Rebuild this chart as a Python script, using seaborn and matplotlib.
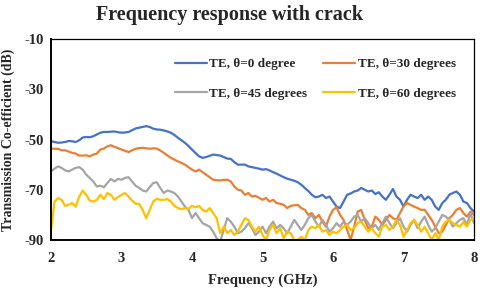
import numpy as np
import pandas as pd
import matplotlib
matplotlib.use("Agg")
import matplotlib.pyplot as plt
import seaborn as sns

# frequency axis, 0.05 GHz sampling from 2 to 8 GHz
freq = np.round(np.linspace(2, 8, 121), 2)

te_0 = [-50.7, -51.0, -51.3, -51.2, -51.0, -50.6, -50.7, -51.0, -50.3, -49.2,
        -49.0, -49.1, -48.7, -48.0, -47.3, -47.0, -47.0, -46.9, -46.8, -47.1,
        -47.3, -47.2, -47.0, -46.3, -45.6, -45.3, -45.0, -44.7, -45.0, -45.7,
        -46.0, -46.1, -46.4, -46.8, -47.3, -48.2, -49.3, -50.3, -51.3, -52.6,
        -54.0, -55.4, -56.7, -57.3, -57.0, -56.5, -56.0, -56.2, -56.4, -57.0,
        -57.6, -57.7, -59.0, -60.0, -60.0, -60.0, -60.7, -61.0, -61.3, -61.6,
        -62.0, -61.8, -62.3, -63.0, -63.6, -64.3, -65.0, -65.6, -66.0, -66.4,
        -67.0, -68.0, -69.3, -70.5, -72.0, -73.0, -72.7, -72.0, -73.3, -72.7,
        -74.7, -76.7, -77.3, -74.7, -72.0, -71.5, -70.7, -70.3, -69.3, -70.0,
        -70.7, -70.3, -71.7, -71.0, -72.7, -74.0, -72.0, -69.7, -72.7, -74.0,
        -76.7, -74.0, -72.0, -72.7, -73.3, -72.0, -74.0, -72.7, -74.0, -76.7,
        -78.0, -75.3, -74.0, -72.0, -71.3, -70.7, -72.0, -74.7, -75.3, -77.3,
        -78.7]

te_30 = [-53.6, -53.7, -53.7, -54.3, -54.3, -54.8, -55.3, -55.6, -56.4, -56.4,
         -56.3, -56.7, -56.0, -55.6, -54.0, -53.6, -52.7, -52.3, -52.9, -53.4,
         -54.0, -54.5, -55.0, -54.3, -53.7, -53.4, -53.3, -53.5, -53.7, -53.5,
         -53.6, -54.4, -55.3, -56.3, -57.3, -58.0, -58.7, -59.3, -60.0, -61.0,
         -62.0, -62.7, -62.0, -63.0, -64.0, -65.0, -66.0, -66.2, -66.3, -66.1,
         -66.0, -66.7, -68.7, -70.0, -70.3, -72.0, -71.3, -72.7, -72.4, -73.2,
         -74.0, -73.3, -74.7, -74.0, -75.3, -75.6, -76.0, -77.3, -76.4, -76.2,
         -76.0, -77.3, -78.0, -80.0, -79.3, -81.3, -80.0, -82.7, -84.7, -80.7,
         -78.0, -77.0, -80.0, -82.0, -86.0, -90.0, -84.7, -78.7, -78.0, -82.0,
         -85.3, -84.7, -80.7, -82.0, -84.0, -82.0, -80.0, -81.3, -82.0, -79.3,
         -76.7, -75.3, -76.0, -76.7, -77.3, -78.0, -78.0, -80.0, -82.0, -84.7,
         -87.3, -86.7, -84.0, -81.3, -80.0, -78.0, -77.3, -79.3, -80.7, -78.7,
         -80.0]

te_45 = [-62.7, -61.6, -60.7, -61.3, -62.3, -62.7, -62.0, -61.3, -61.0, -62.0,
         -64.0, -65.3, -66.7, -68.7, -68.4, -69.0, -67.3, -65.7, -66.7, -65.7,
         -66.0, -65.3, -65.0, -66.7, -68.4, -69.3, -70.3, -70.7, -69.0, -67.3,
         -67.0, -69.3, -71.3, -70.3, -70.7, -71.3, -72.7, -74.7, -76.7, -78.0,
         -81.3, -79.3, -81.3, -83.3, -84.0, -84.7, -86.7, -89.3, -90.7, -86.0,
         -81.3, -82.7, -84.7, -87.3, -86.7, -85.3, -83.3, -85.3, -88.0, -86.7,
         -84.7, -87.3, -84.7, -82.7, -85.3, -84.0, -85.3, -87.3, -84.7, -82.0,
         -84.0, -86.0, -84.0, -81.3, -80.0, -82.7, -84.7, -82.0, -84.0, -86.7,
         -85.3, -83.3, -84.7, -82.7, -84.0, -82.7, -80.7, -80.0, -82.7, -81.3,
         -83.3, -85.3, -84.0, -86.0, -83.3, -80.7, -83.3, -85.3, -83.3, -81.3,
         -84.7, -86.7, -84.0, -82.0, -85.3, -82.7, -80.7, -84.0, -86.7, -85.3,
         -82.7, -80.0, -80.7, -82.0, -84.7, -83.3, -82.0, -81.3, -84.0, -79.3,
         -83.3]

te_60 = [-86.3, -74.7, -73.3, -74.0, -76.4, -76.0, -75.3, -76.7, -72.7, -70.3,
         -72.0, -74.3, -74.7, -74.0, -72.0, -73.7, -71.3, -72.0, -74.0, -72.9,
         -72.0, -71.3, -72.7, -74.3, -75.6, -75.6, -78.0, -81.3, -78.0, -74.7,
         -73.6, -74.0, -74.0, -73.7, -74.7, -76.4, -77.3, -77.7, -77.3, -77.6,
         -76.4, -77.0, -76.4, -78.0, -78.7, -77.3, -79.3, -81.3, -87.3, -84.7,
         -87.3, -86.0, -88.0, -86.7, -84.0, -81.3, -82.0, -84.7, -86.7, -84.7,
         -88.0, -90.0, -86.0, -84.0, -87.3, -85.3, -89.3, -86.7, -87.3, -90.0,
         -90.0, -88.7, -90.0, -86.0, -84.7, -85.3, -84.0, -86.7, -86.0, -88.0,
         -86.7, -87.3, -86.0, -84.7, -84.0, -86.0, -85.3, -83.3, -82.7, -84.7,
         -86.7, -85.3, -87.3, -88.7, -84.7, -84.0, -86.0, -84.7, -82.0, -84.0,
         -88.7, -86.0, -83.3, -82.0, -84.0, -86.7, -84.7, -87.3, -90.0, -87.3,
         -90.0, -84.7, -82.7, -82.0, -83.3, -84.0, -84.7, -82.8, -84.7, -82.0,
         -81.3]

labels = ["TE, \u03b8=0 degree", "TE, \u03b8=30 degrees",
          "TE, \u03b8=45 degrees", "TE, \u03b8=60 degrees"]
colors = ["#4472C4", "#ED7D31", "#A5A5A5", "#FFC000"]

df = pd.concat([
    pd.DataFrame({"Frequency": freq, "Value": vals, "Series": lab})
    for vals, lab in zip([te_0, te_30, te_45, te_60], labels)
])

sns.set_style("white")
plt.rcParams["font.family"] = ["Liberation Serif", "DejaVu Serif"]
plt.rcParams["font.weight"] = "bold"
plt.rcParams["axes.unicode_minus"] = False

fig = plt.figure(figsize=(4.8, 2.9), dpi=100)
ax = fig.add_axes([51 / 480, 50 / 290, 423 / 480, 201 / 290])

sns.lineplot(data=df, x="Frequency", y="Value", hue="Series",
             palette=colors, linewidth=1.6, ax=ax, legend=True)

ax.set_xlim(2, 8)
ax.set_ylim(-90, -10)
ax.set_xticks([2, 3, 4, 5, 6, 7, 8])
ax.set_yticks([-10, -30, -50, -70, -90])
ax.tick_params(axis="x", length=0, pad=9, labelsize=10.5)
ax.tick_params(axis="y", length=0, pad=5, labelsize=10.5)
for t in ax.get_xticklabels() + ax.get_yticklabels():
    t.set_fontweight("bold")

ax.set_xlabel("Frequency (GHz)", fontsize=10.5, fontweight="bold", labelpad=6)
ax.set_ylabel("Transmission Co-efficient (dB)", fontsize=10, fontweight="bold", labelpad=7)

for side in ["left", "bottom"]:
    ax.spines[side].set_linewidth(1.4)
    ax.spines[side].set_color("black")
for side in ["top", "right"]:
    ax.spines[side].set_linewidth(0.9)
    ax.spines[side].set_color("black")

handles, labs = ax.get_legend_handles_labels()
order = [0, 2, 1, 3]
ax.legend([handles[i] for i in order], [labs[i] for i in order],
          ncol=2, frameon=False, loc="upper right", bbox_to_anchor=(0.985, 0.965),
          prop={"size": 9.5, "weight": "bold"}, handlelength=2.4,
          handletextpad=0.2, columnspacing=1.2, labelspacing=1.3)

fig.text(230 / 480, 1 - 15 / 290, "Frequency response with crack",
         ha="center", va="center", fontsize=14.5, fontweight="bold")

fig.savefig("out.png", dpi=100)
